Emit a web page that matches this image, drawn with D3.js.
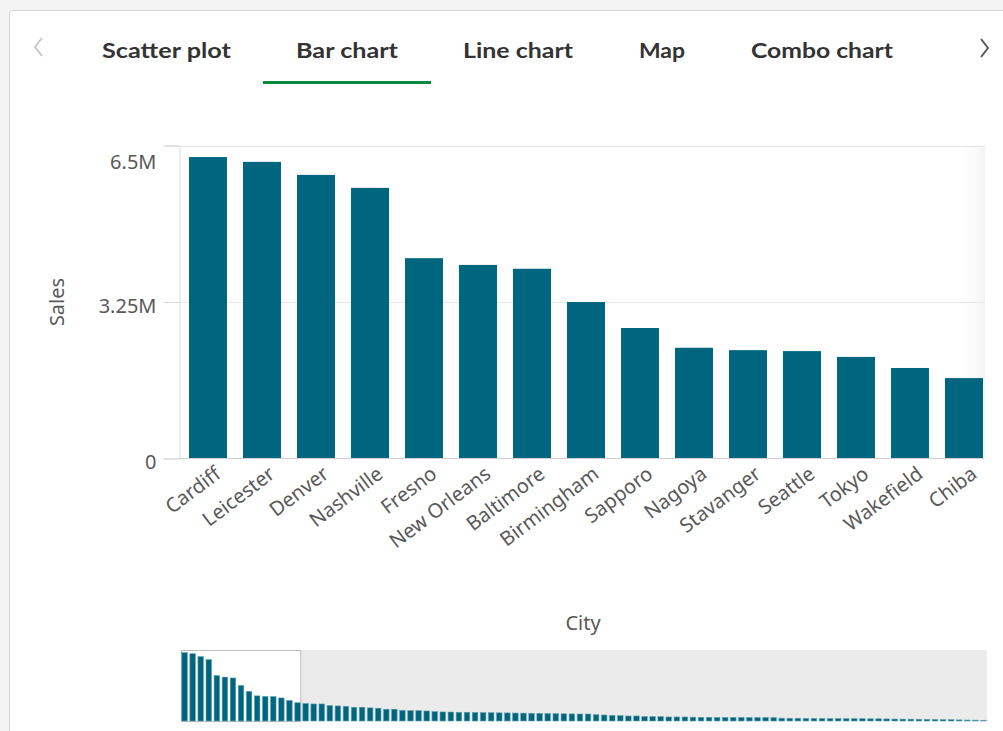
<!DOCTYPE html>
<html>
<head>
<meta charset="utf-8">
<script src="https://cdn.jsdelivr.net/npm/d3@7"></script>
<style>
  html, body { margin: 0; padding: 0; background: #f4f4f4; }
  svg { display: block; }
</style>
</head>
<body>
<svg id="chart" width="1003" height="731"></svg>
<script>
// ---- data ----
const tabs = ["Scatter plot", "Bar chart", "Line chart", "Map", "Combo chart"];
const activeTab = "Bar chart";
const cities = ["Cardiff", "Leicester", "Denver", "Nashville", "Fresno", "New Orleans", "Baltimore",
  "Birmingham", "Sapporo", "Nagoya", "Stavanger", "Seattle", "Tokyo", "Wakefield", "Chiba"];
const sales = [6.26e6, 6.16e6, 5.89e6, 5.62e6, 4.16e6, 4.02e6, 3.94e6, 3.25e6, 2.71e6, 2.30e6,
  2.25e6, 2.23e6, 2.11e6, 1.88e6, 1.67e6];
// overview (mini chart) values for all cities, including those outside the visible window
const overviewSales = [6.26e6, 6.16e6, 5.89e6, 5.62e6, 4.16e6, 4.02e6, 3.94e6, 3.25e6, 2.71e6, 2.30e6,
  2.25e6, 2.23e6, 2.11e6, 1.88e6, 1.67e6, 1.60e6, 1.56e6, 1.56e6, 1.41e6, 1.38e6,
  1.35e6, 1.26e6, 1.26e6, 1.20e6, 1.17e6, 1.08e6, 1.08e6, 0.98e6, 0.95e6, 0.95e6,
  0.92e6, 0.86e6, 0.83e6, 0.82e6, 0.80e6, 0.80e6, 0.78e6, 0.77e6, 0.76e6, 0.75e6,
  0.74e6, 0.73e6, 0.72e6, 0.71e6, 0.70e6, 0.69e6, 0.67e6, 0.66e6, 0.65e6, 0.64e6,
  0.64e6, 0.58e6, 0.55e6, 0.52e6, 0.49e6, 0.46e6, 0.46e6, 0.41e6, 0.40e6, 0.40e6,
  0.37e6, 0.37e6, 0.37e6, 0.35e6, 0.34e6, 0.34e6, 0.33e6, 0.33e6, 0.33e6, 0.33e6,
  0.32e6, 0.32e6, 0.32e6, 0.31e6, 0.26e6, 0.25e6, 0.25e6, 0.24e6, 0.24e6, 0.23e6,
  0.22e6, 0.22e6, 0.21e6, 0.21e6, 0.21e6, 0.20e6, 0.20e6, 0.19e6, 0.18e6, 0.17e6,
  0.17e6, 0.16e6, 0.15e6, 0.14e6, 0.13e6, 0.12e6, 0.10e6, 0.09e6, 0.08e6, 0.07e6];
const yTicks = [0, 3.25e6, 6.5e6];
const yTickLabels = ["0", "3.25M", "6.5M"];
const xTitle = "City";
const yTitle = "Sales";

// ---- drawing ----
const svg = d3.select("#chart");
const barColor = "#00657f";
const textColor = "#595959";
const font = "'Noto Sans', 'Open Sans', sans-serif";

// card
svg.append("rect").attr("x", 9.5).attr("y", 10.5).attr("width", 1010).attr("height", 740)
  .attr("rx", 3).attr("fill", "#fff").attr("stroke", "#d6d6d6");

// tabs
const tabPos = {"Scatter plot": [102, 129], "Bar chart": [296, 102], "Line chart": [463, 110], "Map": [639, 46], "Combo chart": [751, 142]};
svg.append("g").selectAll("text").data(tabs).join("text")
  .attr("x", d => tabPos[d][0]).attr("y", 58)
  .attr("textLength", d => tabPos[d][1]).attr("lengthAdjust", "spacingAndGlyphs")
  .attr("font-family", "Lato, 'Open Sans', sans-serif").attr("font-weight", "bold")
  .attr("font-size", 21).attr("fill", "#333")
  .text(d => d);
svg.append("rect").attr("x", 263).attr("y", 81).attr("width", 168).attr("height", 3).attr("fill", "#0a8a3f");
// chevrons
svg.append("path").attr("d", "M42,38 L35,47 L42,56").attr("fill", "none").attr("stroke", "#c8c8c8").attr("stroke-width", 2);
svg.append("path").attr("d", "M981,39 L988,48 L981,57").attr("fill", "none").attr("stroke", "#595959").attr("stroke-width", 2);

// main chart
const plotLeft = 179.5, plotRight = 984.5, plotTop = 145.5, plotBottom = 458.5;
const y = d3.scaleLinear().domain([0, 6.5e6]).range([plotBottom, plotTop]);
const x = d3.scaleBand().domain(cities).range([184, 988]).paddingInner(16 / 54).paddingOuter(0.0926);

// right fade
const defs = svg.append("defs");
const grad = defs.append("linearGradient").attr("id", "fade").attr("x1", 0).attr("x2", 1).attr("y1", 0).attr("y2", 0);
grad.append("stop").attr("offset", 0).attr("stop-color", "#fff").attr("stop-opacity", 0);
grad.append("stop").attr("offset", 1).attr("stop-color", "#efefef").attr("stop-opacity", 1);
svg.append("rect").attr("x", 955).attr("y", plotTop).attr("width", 30).attr("height", plotBottom - plotTop)
  .attr("fill", "url(#fade)").attr("opacity", 0.7);

// gridlines
svg.append("g").selectAll("line").data(yTicks.filter(d => d > 0)).join("line")
  .attr("x1", plotLeft).attr("x2", plotRight)
  .attr("y1", d => Math.round(y(d)) + 0.5).attr("y2", d => Math.round(y(d)) + 0.5)
  .attr("stroke", "#e6e6e6");

// bars
svg.append("g").selectAll("rect").data(cities).join("rect")
  .attr("x", d => x(d)).attr("width", x.bandwidth())
  .attr("y", (d, i) => y(sales[i])).attr("height", (d, i) => plotBottom - y(sales[i]))
  .attr("fill", barColor);

// y axis
const yAxis = d3.axisLeft(y).tickValues(yTicks).tickSize(16).tickPadding(7)
  .tickFormat((d, i) => yTickLabels[i]);
const gy = svg.append("g").attr("transform", `translate(${plotLeft},0)`).call(yAxis);
gy.select(".domain").attr("stroke", "#d9d9d9");
gy.selectAll(".tick line").attr("stroke", "#d9d9d9");
gy.selectAll(".tick text").attr("font-family", font).attr("font-size", 20)
  .attr("fill", textColor).attr("dy", (d) => d === 6.5e6 ? "1.15em" : "0.5em");

// x axis baseline
svg.append("line").attr("x1", plotLeft).attr("x2", plotRight).attr("y1", plotBottom).attr("y2", plotBottom)
  .attr("stroke", "#cfcfcf");

// x labels
svg.append("g").selectAll("text").data(cities).join("text")
  .attr("transform", d => `translate(${x(d) + x.bandwidth() / 2 + 10},471) rotate(-37)`)
  .attr("text-anchor", "end").attr("dy", "0.35em")
  .attr("font-family", font).attr("font-size", 20).attr("fill", textColor)
  .text(d => d);

// axis titles
svg.append("text").attr("transform", "translate(64,302) rotate(-90)").attr("text-anchor", "middle")
  .attr("font-family", font).attr("font-size", 20).attr("fill", textColor).text(yTitle);
svg.append("text").attr("x", 583).attr("y", 630).attr("text-anchor", "middle")
  .attr("font-family", font).attr("font-size", 20).attr("fill", textColor).text(xTitle);

// overview mini chart
const mLeft = 181, mRight = 987, mTop = 650, mBottom = 721;
const mx = d3.scaleBand().domain(d3.range(overviewSales.length)).range([mLeft, mRight]).paddingInner(0.32).paddingOuter(0.1);
const my = d3.scaleLinear().domain([0, 6.5e6]).range([mBottom, mTop]);
const selEnd = mx(cities.length - 1) + mx.bandwidth();
svg.append("rect").attr("x", mLeft).attr("y", mTop).attr("width", mRight - mLeft).attr("height", mBottom - mTop)
  .attr("fill", "#ebebeb");
svg.append("rect").attr("x", mLeft + 0.5).attr("y", mTop + 0.5).attr("width", selEnd - mLeft).attr("height", mBottom - mTop)
  .attr("fill", "#fff").attr("stroke", "#bdbdbd");
svg.append("g").selectAll("rect").data(overviewSales).join("rect")
  .attr("x", (d, i) => mx(i)).attr("width", mx.bandwidth())
  .attr("y", d => my(d)).attr("height", d => mBottom - my(d))
  .attr("fill", barColor).attr("stroke", "#5f9fb0").attr("stroke-width", 0.6);
</script>
</body>
</html>
